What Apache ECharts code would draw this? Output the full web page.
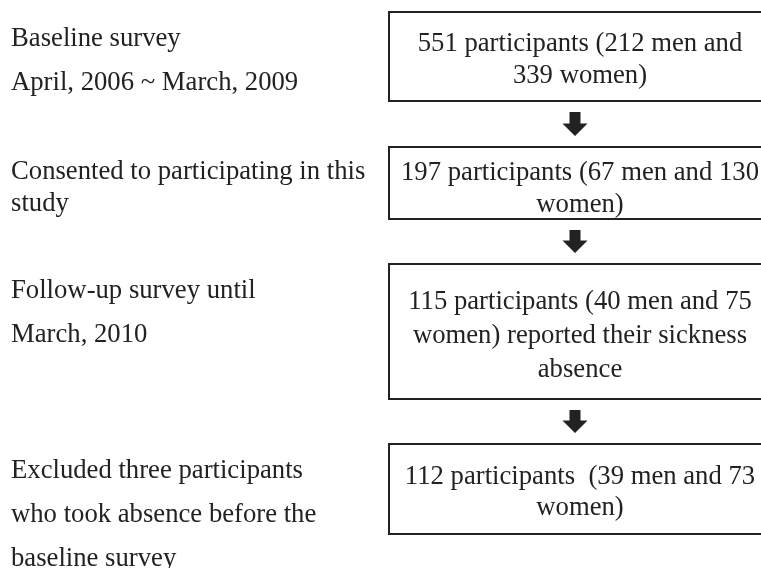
<!DOCTYPE html>
<html>
<head>
<meta charset="utf-8">
<script src="https://cdn.jsdelivr.net/npm/echarts@6/dist/echarts.min.js"></script>
<style>html,body{margin:0;padding:0;background:#fff}#c{width:761px;height:568px}</style>
</head>
<body>
<div id="c"></div>
<script>
// ---- data ----
var stageLabels = [
  ["Baseline survey", "April, 2006 ~ March, 2009"],
  ["Consented to participating in this", "study"],
  ["Follow-up survey until", "March, 2010"],
  ["Excluded three participants", "who took absence before the", "baseline survey"]
];
var boxTexts = [
  ["551 participants (212 men and", "339 women)"],
  ["197 participants (67 men and 130", "women)"],
  ["115 participants (40 men and 75", "women) reported their sickness", "absence"],
  ["112 participants  (39 men and 73", "women)"]
];

// ---- layout (pixel-space coordinates on hidden axes) ----
var boxTop = [12, 147, 264, 444];
var boxBottom = [101, 219, 399, 534];
var boxLeft = 389, boxRight = 771, boxCenterX = 580;
// text baselines
var boxLineBase = [[49, 80.5], [178, 209.5], [306.5, 341, 374.5], [481.5, 513]];
var labelLineBase = [[44, 88], [177, 209], [296, 340], [475.5, 520, 564]];
var labelX = 11;
var arrowX = 575;
var FONT = 'Liberation Serif';
var FS = 26.7;
var MID = 5; // baseline offset below the text's 'middle' anchor
var INK = '#222';

var chart = echarts.init(document.getElementById('c'), null, {renderer: 'canvas'});

function txt(t, x, y, align) {
  return {
    type: 'text',
    style: {
      text: t, x: x, y: y - MID, align: align, verticalAlign: 'middle',
      fontFamily: FONT, fontSize: FS, fill: INK
    }
  };
}

function renderStage(params, api) {
  var i = params.dataIndex;
  var tl = api.coord([boxLeft, boxTop[i]]);
  var br = api.coord([boxRight, boxBottom[i]]);
  var children = [];
  children.push({
    type: 'rect',
    shape: {x: tl[0], y: tl[1], width: br[0] - tl[0], height: br[1] - tl[1]},
    style: {fill: '#fff', stroke: INK, lineWidth: 2}
  });
  boxTexts[i].forEach(function (t, k) {
    var p = api.coord([boxCenterX, boxLineBase[i][k]]);
    children.push(txt(t, p[0], p[1], 'center'));
  });
  stageLabels[i].forEach(function (t, k) {
    var p = api.coord([labelX, labelLineBase[i][k]]);
    children.push(txt(t, p[0], p[1], 'left'));
  });
  if (i > 0) {
    var top = boxBottom[i - 1] + 11, tip = boxTop[i] - 11;
    var headStart = tip - 12.5;
    var pts = [
      [arrowX - 5.5, top], [arrowX + 5.5, top], [arrowX + 5.5, headStart],
      [arrowX + 12.5, headStart], [arrowX, tip], [arrowX - 12.5, headStart],
      [arrowX - 5.5, headStart]
    ].map(function (p) { return api.coord(p); });
    children.push({type: 'polygon', shape: {points: pts}, style: {fill: INK}});
  }
  return {type: 'group', children: children};
}

chart.setOption({
  animation: false,
  backgroundColor: '#fff',
  grid: {left: 0, right: 0, top: 0, bottom: 0},
  xAxis: {type: 'value', min: 0, max: 761, show: false},
  yAxis: {type: 'value', min: 0, max: 568, inverse: true, show: false},
  series: [{
    type: 'custom',
    renderItem: renderStage,
    data: boxTexts.map(function (t, i) { return [i]; }),
    clip: false,
    silent: true
  }]
});
</script>
</body>
</html>
